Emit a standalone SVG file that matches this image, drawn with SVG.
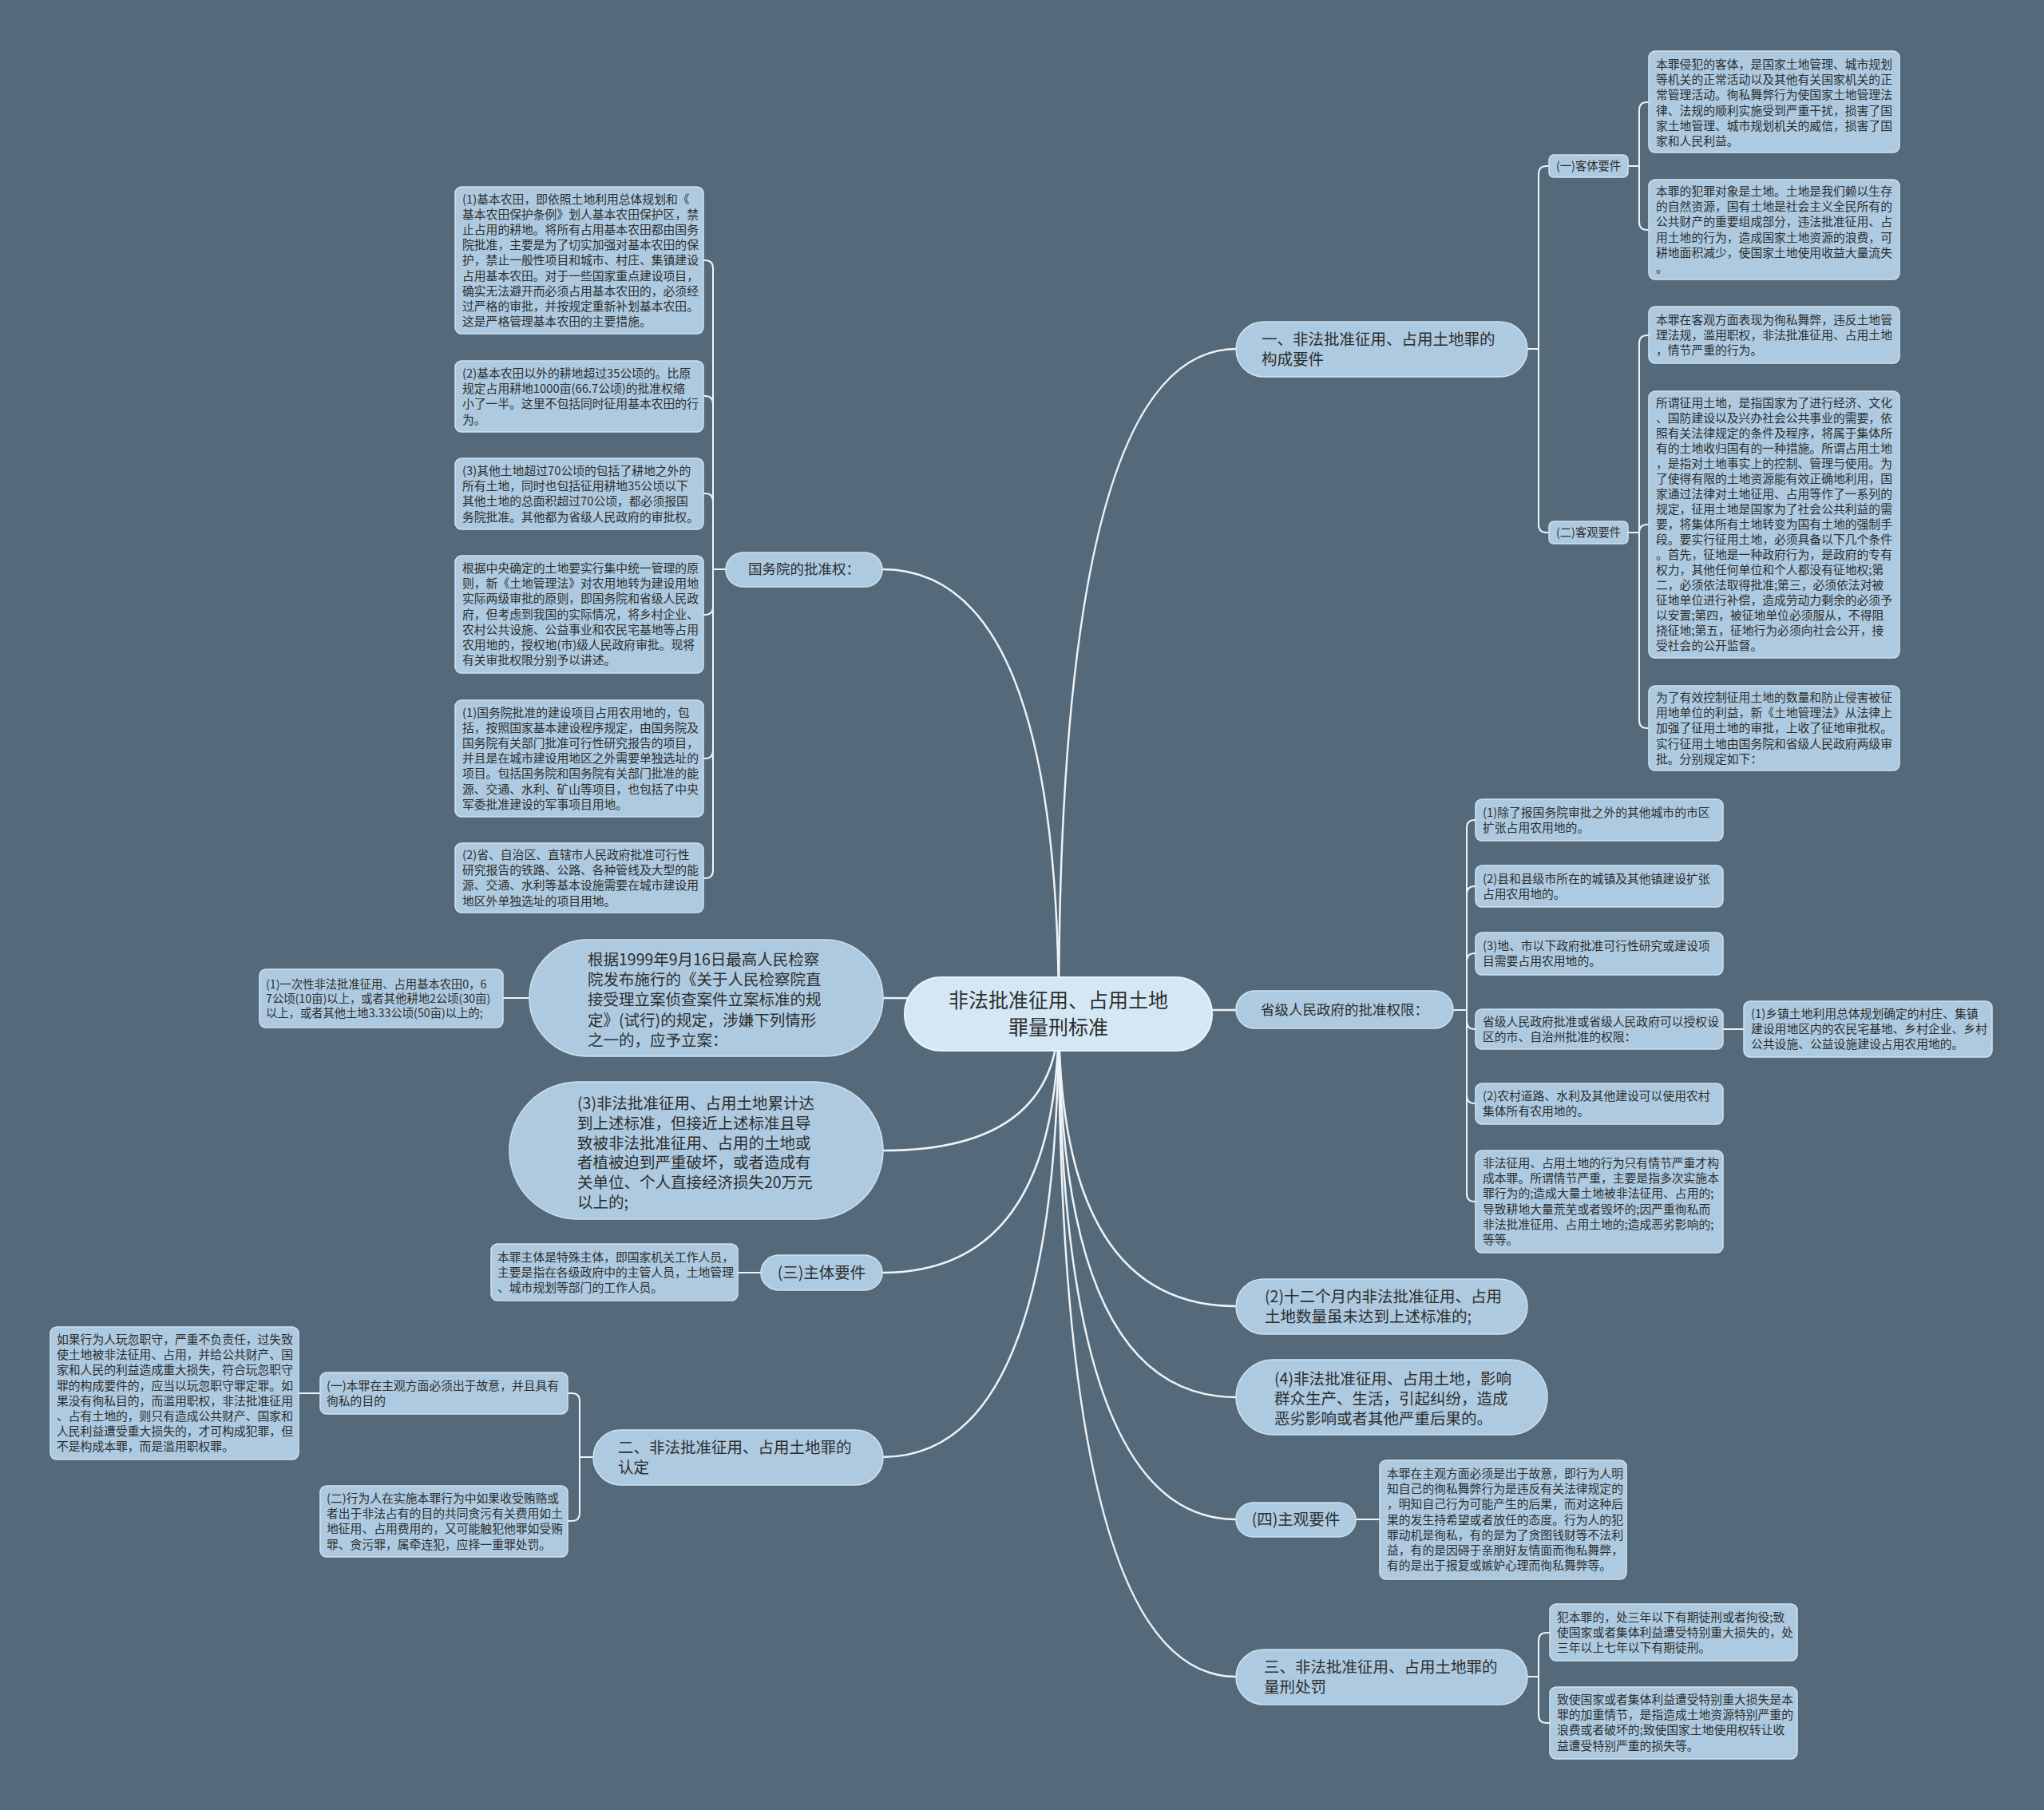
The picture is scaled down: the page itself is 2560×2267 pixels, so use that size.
<svg xmlns="http://www.w3.org/2000/svg" width="2560" height="2267" viewBox="0 0 2560 2267">
<style>
text{font-family:"Noto Sans CJK SC","Noto Sans",sans-serif;fill:#2e2e2e}
.n{fill:#adcae0;stroke:#cfe2ef;stroke-width:1.5}
.r{fill:#d3e8f4;stroke:#eaf4fa;stroke-width:2}
.s{font-size:14.8px}
.xs{font-size:14.3px}
.m{font-size:19.5px}
.k{font-size:17.5px}
.rt{font-size:25px}
.c{fill:none;stroke:#eef3f7;stroke-width:2.5}
.c2{fill:none;stroke:#eef3f7;stroke-width:2}
</style>
<rect width="2560" height="2267" fill="#546a7a"/>
<g id="connectors">
<path class="c" d="M1326,1270 Q1326,437 1548,437"/>
<path class="c" d="M1326,1270 Q1326,1265 1548,1265"/>
<path class="c" d="M1326,1270 Q1326,1636 1548,1636"/>
<path class="c" d="M1326,1270 Q1326,1750 1548,1750"/>
<path class="c" d="M1326,1270 Q1326,1903 1548,1903"/>
<path class="c" d="M1326,1270 Q1326,2100 1548,2100"/>
<path class="c" d="M1326,1270 Q1326,713 1105,713"/>
<path class="c" d="M1326,1270 Q1326,1250 1106,1250"/>
<path class="c" d="M1326,1270 Q1326,1441 1106,1441"/>
<path class="c" d="M1326,1270 Q1326,1594 1105,1594"/>
<path class="c" d="M1326,1270 Q1326,1825 1105,1825"/>
<path class="c2" d="M1913,437 H1927 V218 Q1927,208 1937,208 H1940"/>
<path class="c2" d="M1913,437 H1927 V657 Q1927,667 1937,667 H1940"/>
<path class="c2" d="M2039,208 H2053 V138 Q2053,128 2063,128 H2065"/>
<path class="c2" d="M2039,208 H2053 V278 Q2053,288 2063,288 H2065"/>
<path class="c2" d="M2039,667 H2053 V430 Q2053,420 2063,420 H2065"/>
<path class="c2" d="M2039,667 H2053 Q2053,657 2063,657 H2065"/>
<path class="c2" d="M2039,667 H2053 V902 Q2053,912 2063,912 H2065"/>
<path class="c2" d="M1820,1265 H1837 V1037 Q1837,1027 1847,1027 H1848"/>
<path class="c2" d="M1820,1265 H1837 V1120 Q1837,1110 1847,1110 H1848"/>
<path class="c2" d="M1820,1265 H1837 V1204 Q1837,1194 1847,1194 H1848"/>
<path class="c2" d="M1820,1265 H1837 V1279 Q1837,1289 1847,1289 H1848"/>
<path class="c2" d="M1820,1265 H1837 V1372 Q1837,1382 1847,1382 H1848"/>
<path class="c2" d="M1820,1265 H1837 V1495 Q1837,1505 1847,1505 H1848"/>
<path class="c2" d="M909,713 H893 V336 Q893,326 883,326 H881"/>
<path class="c2" d="M909,713 H893 V506 Q893,496 883,496 H881"/>
<path class="c2" d="M909,713 H893 V628 Q893,618 883,618 H881"/>
<path class="c2" d="M909,713 H893 V760 Q893,770 883,770 H881"/>
<path class="c2" d="M909,713 H893 V940 Q893,950 883,950 H881"/>
<path class="c2" d="M909,713 H893 V1090 Q893,1100 883,1100 H881"/>
<path class="c2" d="M743,1825 H726 V1755 Q726,1745 716,1745 H711"/>
<path class="c2" d="M743,1825 H726 V1895 Q726,1905 716,1905 H711"/>
<path class="c2" d="M1913,2100 H1927 V2055 Q1927,2045 1937,2045 H1941"/>
<path class="c2" d="M1913,2100 H1927 V2148 Q1927,2158 1937,2158 H1941"/>
<path class="c2" d="M663,1250 H630"/>
<path class="c2" d="M953,1594 H924"/>
<path class="c2" d="M401,1745 H374"/>
<path class="c2" d="M1698,1903 H1728"/>
<path class="c2" d="M2158,1289 H2184"/>
</g>

<g id="root">
<rect class="r" x="1133" y="1224" width="385" height="92" rx="46"/>
<text class="rt" text-anchor="middle"><tspan x="1325.5" y="1262">非法批准征用、占用土地</tspan><tspan x="1325.5" y="1296">罪量刑标准</tspan></text>
</g>

<g id="n-gouchengyaojian">
<rect class="n" x="1548" y="403" width="365" height="69" rx="34.5"/>
<text class="m"><tspan x="1580" y="432">一、非法批准征用、占用土地罪的</tspan><tspan x="1580" y="457">构成要件</tspan></text>
</g>
<g id="n-keti">
<rect class="n" x="1940" y="194" width="99" height="28" rx="6"/>
<text class="xs" text-anchor="middle" x="1989.5" y="213">(一)客体要件</text>
</g>
<g id="n-keguan">
<rect class="n" x="1940" y="653" width="99" height="28" rx="6"/>
<text class="xs" text-anchor="middle" x="1989.5" y="672">(二)客观要件</text>
</g>
<g id="t-a">
<rect class="n" x="2065" y="64" width="314" height="127" rx="8"/>
<text class="s"><tspan x="2074" y="86">本罪侵犯的客体，是国家土地管理、城市规划</tspan><tspan x="2074" dy="19.2">等机关的正常活动以及其他有关国家机关的正</tspan><tspan x="2074" dy="19.2">常管理活动。徇私舞弊行为使国家土地管理法</tspan><tspan x="2074" dy="19.2">律、法规的顺利实施受到严重干扰，损害了国</tspan><tspan x="2074" dy="19.2">家土地管理、城市规划机关的威信，损害了国</tspan><tspan x="2074" dy="19.2">家和人民利益。</tspan></text>
</g>
<g id="t-b">
<rect class="n" x="2065" y="225" width="314" height="125" rx="8"/>
<text class="s"><tspan x="2074" y="245">本罪的犯罪对象是土地。土地是我们赖以生存</tspan><tspan x="2074" dy="19.2">的自然资源，国有土地是社会主义全民所有的</tspan><tspan x="2074" dy="19.2">公共财产的重要组成部分，违法批准征用、占</tspan><tspan x="2074" dy="19.2">用土地的行为，造成国家土地资源的浪费，可</tspan><tspan x="2074" dy="19.2">耕地面积减少，使国家土地使用收益大量流失</tspan><tspan x="2074" dy="19.2">。</tspan></text>
</g>
<g id="t-c">
<rect class="n" x="2065" y="384" width="314" height="71" rx="8"/>
<text class="s"><tspan x="2074" y="405.5">本罪在客观方面表现为徇私舞弊，违反土地管</tspan><tspan x="2074" dy="19.2">理法规，滥用职权，非法批准征用、占用土地</tspan><tspan x="2074" dy="19.2">，情节严重的行为。</tspan></text>
</g>
<g id="t-d">
<rect class="n" x="2065" y="490" width="314" height="334" rx="8"/>
<text class="s"><tspan x="2074" y="510">所谓征用土地，是指国家为了进行经济、文化</tspan><tspan x="2074" dy="19">、国防建设以及兴办社会公共事业的需要，依</tspan><tspan x="2074" dy="19">照有关法律规定的条件及程序，将属于集体所</tspan><tspan x="2074" dy="19">有的土地收归国有的一种措施。所谓占用土地</tspan><tspan x="2074" dy="19">，是指对土地事实上的控制、管理与使用。为</tspan><tspan x="2074" dy="19">了使得有限的土地资源能有效正确地利用，国</tspan><tspan x="2074" dy="19">家通过法律对土地征用、占用等作了一系列的</tspan><tspan x="2074" dy="19">规定，征用土地是国家为了社会公共利益的需</tspan><tspan x="2074" dy="19">要，将集体所有土地转变为国有土地的强制手</tspan><tspan x="2074" dy="19">段。要实行征用土地，必须具备以下几个条件</tspan><tspan x="2074" dy="19">。首先，征地是一种政府行为，是政府的专有</tspan><tspan x="2074" dy="19">权力，其他任何单位和个人都没有征地权;第</tspan><tspan x="2074" dy="19">二，必须依法取得批准;第三，必须依法对被</tspan><tspan x="2074" dy="19">征地单位进行补偿，造成劳动力剩余的必须予</tspan><tspan x="2074" dy="19">以安置;第四，被征地单位必须服从，不得阻</tspan><tspan x="2074" dy="19">挠征地;第五，征地行为必须向社会公开，接</tspan><tspan x="2074" dy="19">受社会的公开监督。</tspan></text>
</g>
<g id="t-e">
<rect class="n" x="2065" y="859" width="314" height="106" rx="8"/>
<text class="s"><tspan x="2074" y="879">为了有效控制征用土地的数量和防止侵害被征</tspan><tspan x="2074" dy="19.2">用地单位的利益，新《土地管理法》从法律上</tspan><tspan x="2074" dy="19.2">加强了征用土地的审批，上收了征地审批权。</tspan><tspan x="2074" dy="19.2">实行征用土地由国务院和省级人民政府两级审</tspan><tspan x="2074" dy="19.2">批。分别规定如下：</tspan></text>
</g>

<g id="n-shengji">
<rect class="n" x="1548" y="1241" width="272" height="47" rx="23.5"/>
<text class="k" text-anchor="middle" x="1684" y="1271">省级人民政府的批准权限：</text>
</g>
<g id="t-r1">
<rect class="n" x="1848" y="1001" width="310" height="52" rx="8"/>
<text class="s"><tspan x="1857" y="1022.5">(1)除了报国务院审批之外的其他城市的市区</tspan><tspan x="1857" dy="19.2">扩张占用农用地的。</tspan></text>
</g>
<g id="t-r2">
<rect class="n" x="1848" y="1084" width="310" height="52" rx="8"/>
<text class="s"><tspan x="1857" y="1105.5">(2)县和县级市所在的城镇及其他镇建设扩张</tspan><tspan x="1857" dy="19.2">占用农用地的。</tspan></text>
</g>
<g id="t-r3">
<rect class="n" x="1848" y="1168" width="310" height="53" rx="8"/>
<text class="s"><tspan x="1857" y="1190">(3)地、市以下政府批准可行性研究或建设项</tspan><tspan x="1857" dy="19.2">目需要占用农用地的。</tspan></text>
</g>
<g id="t-r4">
<rect class="n" x="1848" y="1264" width="310" height="50" rx="8"/>
<text class="s"><tspan x="1857" y="1284.5">省级人民政府批准或省级人民政府可以授权设</tspan><tspan x="1857" dy="19.2">区的市、自治州批准的权限：</tspan></text>
</g>
<g id="t-r5">
<rect class="n" x="2184" y="1254" width="311" height="70" rx="8"/>
<text class="s"><tspan x="2193" y="1275">(1)乡镇土地利用总体规划确定的村庄、集镇</tspan><tspan x="2193" dy="19.2">建设用地区内的农民宅基地、乡村企业、乡村</tspan><tspan x="2193" dy="19.2">公共设施、公益设施建设占用农用地的。</tspan></text>
</g>
<g id="t-r6">
<rect class="n" x="1848" y="1357" width="310" height="51" rx="8"/>
<text class="s"><tspan x="1857" y="1378">(2)农村道路、水利及其他建设可以使用农村</tspan><tspan x="1857" dy="19.2">集体所有农用地的。</tspan></text>
</g>
<g id="t-r7">
<rect class="n" x="1848" y="1441" width="310" height="128" rx="8"/>
<text class="s"><tspan x="1857" y="1462">非法征用、占用土地的行为只有情节严重才构</tspan><tspan x="1857" dy="19.2">成本罪。所谓情节严重，主要是指多次实施本</tspan><tspan x="1857" dy="19.2">罪行为的;造成大量土地被非法征用、占用的;</tspan><tspan x="1857" dy="19.2">导致耕地大量荒芜或者毁坏的;因严重徇私而</tspan><tspan x="1857" dy="19.2">非法批准征用、占用土地的;造成恶劣影响的;</tspan><tspan x="1857" dy="19.2">等等。</tspan></text>
</g>

<g id="n-12months">
<rect class="n" x="1548" y="1602" width="365" height="69" rx="34.5"/>
<text class="m"><tspan x="1584" y="1631">(2)十二个月内非法批准征用、占用</tspan><tspan x="1584" y="1656">土地数量虽未达到上述标准的;</tspan></text>
</g>
<g id="n-4">
<rect class="n" x="1548" y="1703" width="390" height="94" rx="47"/>
<text class="m"><tspan x="1596" y="1734">(4)非法批准征用、占用土地，影响</tspan><tspan x="1596" y="1759">群众生产、生活，引起纠纷，造成</tspan><tspan x="1596" y="1784">恶劣影响或者其他严重后果的。</tspan></text>
</g>
<g id="n-zhuguan">
<rect class="n" x="1548" y="1882" width="150" height="43" rx="21.5"/>
<text class="m" text-anchor="middle" x="1623" y="1910">(四)主观要件</text>
</g>
<g id="t-m1">
<rect class="n" x="1728" y="1829" width="309" height="149" rx="8"/>
<text class="s"><tspan x="1737" y="1851">本罪在主观方面必须是出于故意，即行为人明</tspan><tspan x="1737" dy="19.2">知自己的徇私舞弊行为是违反有关法律规定的</tspan><tspan x="1737" dy="19.2">，明知自己行为可能产生的后果，而对这种后</tspan><tspan x="1737" dy="19.2">果的发生持希望或者放任的态度。行为人的犯</tspan><tspan x="1737" dy="19.2">罪动机是徇私，有的是为了贪图钱财等不法利</tspan><tspan x="1737" dy="19.2">益，有的是因碍于亲朋好友情面而徇私舞弊，</tspan><tspan x="1737" dy="19.2">有的是出于报复或嫉妒心理而徇私舞弊等。</tspan></text>
</g>
<g id="n-liangxing">
<rect class="n" x="1548" y="2066" width="365" height="69" rx="34.5"/>
<text class="m"><tspan x="1583" y="2095">三、非法批准征用、占用土地罪的</tspan><tspan x="1583" y="2120">量刑处罚</tspan></text>
</g>
<g id="t-p1">
<rect class="n" x="1941" y="2009" width="310" height="71" rx="8"/>
<text class="s"><tspan x="1950" y="2030.5">犯本罪的，处三年以下有期徒刑或者拘役;致</tspan><tspan x="1950" dy="19.2">使国家或者集体利益遭受特别重大损失的，处</tspan><tspan x="1950" dy="19.2">三年以上七年以下有期徒刑。</tspan></text>
</g>
<g id="t-p2">
<rect class="n" x="1941" y="2113" width="310" height="90" rx="8"/>
<text class="s"><tspan x="1950" y="2134">致使国家或者集体利益遭受特别重大损失是本</tspan><tspan x="1950" dy="19.2">罪的加重情节，是指造成土地资源特别严重的</tspan><tspan x="1950" dy="19.2">浪费或者破坏的;致使国家土地使用权转让收</tspan><tspan x="1950" dy="19.2">益遭受特别严重的损失等。</tspan></text>
</g>

<g id="n-guowuyuan">
<rect class="n" x="909" y="692" width="196" height="43" rx="21.5"/>
<text class="k" text-anchor="middle" x="1007" y="719">国务院的批准权：</text>
</g>
<g id="t-l1">
<rect class="n" x="570" y="234" width="311" height="184" rx="8"/>
<text class="s"><tspan x="579" y="254.5">(1)基本农田，即依照土地利用总体规划和《</tspan><tspan x="579" dy="19.2">基本农田保护条例》划人基本农田保护区，禁</tspan><tspan x="579" dy="19.2">止占用的耕地。将所有占用基本农田都由国务</tspan><tspan x="579" dy="19.2">院批准，主要是为了切实加强对基本农田的保</tspan><tspan x="579" dy="19.2">护，禁止一般性项目和城市、村庄、集镇建设</tspan><tspan x="579" dy="19.2">占用基本农田。对于一些国家重点建设项目，</tspan><tspan x="579" dy="19.2">确实无法避开而必须占用基本农田的，必须经</tspan><tspan x="579" dy="19.2">过严格的审批，并按规定重新补划基本农田。</tspan><tspan x="579" dy="19.2">这是严格管理基本农田的主要措施。</tspan></text>
</g>
<g id="t-l2">
<rect class="n" x="570" y="452" width="311" height="89" rx="8"/>
<text class="s"><tspan x="579" y="473">(2)基本农田以外的耕地超过35公顷的。比原</tspan><tspan x="579" dy="19.2">规定占用耕地1000亩(66.7公顷)的批准权缩</tspan><tspan x="579" dy="19.2">小了一半。这里不包括同时征用基本农田的行</tspan><tspan x="579" dy="19.2">为。</tspan></text>
</g>
<g id="t-l3">
<rect class="n" x="570" y="574" width="311" height="89" rx="8"/>
<text class="s"><tspan x="579" y="595">(3)其他土地超过70公顷的包括了耕地之外的</tspan><tspan x="579" dy="19.2">所有土地，同时也包括征用耕地35公顷以下</tspan><tspan x="579" dy="19.2">其他土地的总面积超过70公顷，都必须报国</tspan><tspan x="579" dy="19.2">务院批准。其他都为省级人民政府的审批权。</tspan></text>
</g>
<g id="t-l4">
<rect class="n" x="570" y="696" width="311" height="147" rx="8"/>
<text class="s"><tspan x="579" y="717">根据中央确定的土地要实行集中统一管理的原</tspan><tspan x="579" dy="19.2">则，新《土地管理法》对农用地转为建设用地</tspan><tspan x="579" dy="19.2">实际两级审批的原则，即国务院和省级人民政</tspan><tspan x="579" dy="19.2">府，但考虑到我国的实际情况，将乡村企业、</tspan><tspan x="579" dy="19.2">农村公共设施、公益事业和农民宅基地等占用</tspan><tspan x="579" dy="19.2">农用地的，授权地(市)级人民政府审批。现将</tspan><tspan x="579" dy="19.2">有关审批权限分别予以讲述。</tspan></text>
</g>
<g id="t-l5">
<rect class="n" x="570" y="877" width="311" height="146" rx="8"/>
<text class="s"><tspan x="579" y="897.5">(1)国务院批准的建设项目占用农用地的，包</tspan><tspan x="579" dy="19.2">括，按照国家基本建设程序规定，由国务院及</tspan><tspan x="579" dy="19.2">国务院有关部门批准可行性研究报告的项目，</tspan><tspan x="579" dy="19.2">并且是在城市建设用地区之外需要单独选址的</tspan><tspan x="579" dy="19.2">项目。包括国务院和国务院有关部门批准的能</tspan><tspan x="579" dy="19.2">源、交通、水利、矿山等项目，也包括了中央</tspan><tspan x="579" dy="19.2">军委批准建设的军事项目用地。</tspan></text>
</g>
<g id="t-l6">
<rect class="n" x="570" y="1056" width="311" height="87" rx="8"/>
<text class="s"><tspan x="579" y="1076">(2)省、自治区、直辖市人民政府批准可行性</tspan><tspan x="579" dy="19.2">研究报告的铁路、公路、各种管线及大型的能</tspan><tspan x="579" dy="19.2">源、交通、水利等基本设施需要在城市建设用</tspan><tspan x="579" dy="19.2">地区外单独选址的项目用地。</tspan></text>
</g>

<g id="n-lian">
<rect class="n" x="663" y="1177" width="443" height="146" rx="73"/>
<text class="m"><tspan x="736" y="1209">根据1999年9月16日最高人民检察</tspan><tspan x="736" dy="25.2">院发布施行的《关于人民检察院直</tspan><tspan x="736" dy="25.2">接受理立案侦查案件立案标准的规</tspan><tspan x="736" dy="25.2">定》(试行)的规定，涉嫌下列情形</tspan><tspan x="736" dy="25.2">之一的，应予立案：</tspan></text>
</g>
<g id="t-s1">
<rect class="n" x="325" y="1214" width="305" height="73" rx="8"/>
<text class="xs"><tspan x="333" y="1237.5">(1)一次性非法批准征用、占用基本农田0，6</tspan><tspan x="333" dy="18.3">7公顷(10亩)以上，或者其他耕地2公顷(30亩)</tspan><tspan x="333" dy="18.3">以上，或者其他土地3.33公顷(50亩)以上的;</tspan></text>
</g>
<g id="n-leiji">
<rect class="n" x="638" y="1355" width="468" height="172" rx="86"/>
<text class="m"><tspan x="723" y="1389">(3)非法批准征用、占用土地累计达</tspan><tspan x="723" dy="24.8">到上述标准，但接近上述标准且导</tspan><tspan x="723" dy="24.8">致被非法批准征用、占用的土地或</tspan><tspan x="723" dy="24.8">者植被迫到严重破坏，或者造成有</tspan><tspan x="723" dy="24.8">关单位、个人直接经济损失20万元</tspan><tspan x="723" dy="24.8">以上的;</tspan></text>
</g>
<g id="n-zhuti">
<rect class="n" x="953" y="1572" width="152" height="44" rx="22"/>
<text class="m" text-anchor="middle" x="1029" y="1601">(三)主体要件</text>
</g>
<g id="t-t3">
<rect class="n" x="615" y="1558" width="309" height="71" rx="8"/>
<text class="s"><tspan x="623" y="1579.5">本罪主体是特殊主体，即国家机关工作人员，</tspan><tspan x="623" dy="19.2">主要是指在各级政府中的主管人员，土地管理</tspan><tspan x="623" dy="19.2">、城市规划等部门的工作人员。</tspan></text>
</g>
<g id="n-rending">
<rect class="n" x="743" y="1791" width="363" height="69" rx="34.5"/>
<text class="m"><tspan x="774" y="1820">二、非法批准征用、占用土地罪的</tspan><tspan x="774" y="1845">认定</tspan></text>
</g>
<g id="t-g2">
<rect class="n" x="401" y="1719" width="310" height="52" rx="8"/>
<text class="s"><tspan x="409" y="1740.5">(一)本罪在主观方面必须出于故意，并且具有</tspan><tspan x="409" dy="19.2">徇私的目的</tspan></text>
</g>
<g id="t-g1">
<rect class="n" x="63" y="1662" width="311" height="166" rx="8"/>
<text class="s"><tspan x="71" y="1683">如果行为人玩忽职守，严重不负责任，过失致</tspan><tspan x="71" dy="19.2">使土地被非法征用、占用，并给公共财产、国</tspan><tspan x="71" dy="19.2">家和人民的利益造成重大损失，符合玩忽职守</tspan><tspan x="71" dy="19.2">罪的构成要件的，应当以玩忽职守罪定罪。如</tspan><tspan x="71" dy="19.2">果没有徇私目的，而滥用职权，非法批准征用</tspan><tspan x="71" dy="19.2">、占有土地的，则只有造成公共财产、国家和</tspan><tspan x="71" dy="19.2">人民利益遭受重大损失的，才可构成犯罪，但</tspan><tspan x="71" dy="19.2">不是构成本罪，而是滥用职权罪。</tspan></text>
</g>
<g id="t-g3">
<rect class="n" x="401" y="1861" width="310" height="89" rx="8"/>
<text class="s"><tspan x="409" y="1882">(二)行为人在实施本罪行为中如果收受贿赂或</tspan><tspan x="409" dy="19.2">者出于非法占有的目的共同贪污有关费用如土</tspan><tspan x="409" dy="19.2">地征用、占用费用的，又可能触犯他罪如受贿</tspan><tspan x="409" dy="19.2">罪、贪污罪，属牵连犯，应择一重罪处罚。</tspan></text>
</g>
</svg>
